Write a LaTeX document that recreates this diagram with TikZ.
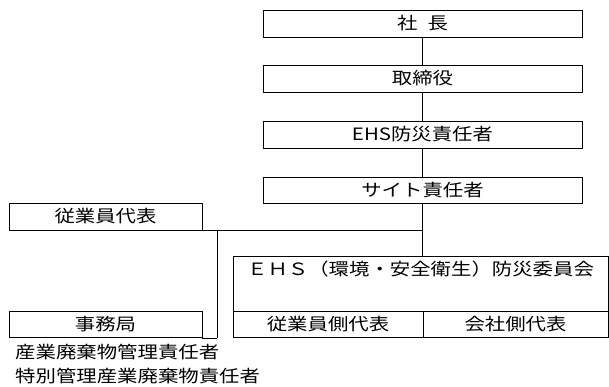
\documentclass[tikz,border=0pt]{standalone}
\usepackage{fontspec}
\newfontfamily\jpfont[FakeStretch=1.2]{Noto Sans CJK JP}

\begin{document}
\begin{tikzpicture}[x=1pt, y=-1pt,
		orgtext/.style={font=\fontsize{17}{20}\selectfont\jpfont},
		orgbox/.style={draw, line width=0.6pt, minimum height=27, inner sep=0pt, orgtext},
		link/.style={line width=0.6pt}]
			\useasboundingbox (0,0) rectangle (609,387);

			\node[orgbox, minimum width=319] at (422.5, 23.5) (shacho) {社\hspace{0.6em}長};
			\node[orgbox, minimum width=319] at (422.5, 78.5) (torishimari) {取締役};
			\node[orgbox, minimum width=319] at (422.5, 134.5) (ehs) {EHS防災責任者};
			\node[orgbox, minimum width=319, minimum height=26] at (422.5, 190) (site) {サイト責任者};

			\node[orgbox, minimum width=193] at (105.5, 216.5) (jugyoin) {従業員代表};
			\node[orgbox, minimum width=193, minimum height=26] at (105.5, 324.5) (jimu) {事務局};

			\node[orgbox, minimum width=375, minimum height=55,
				label={[orgtext, anchor=north, yshift=-2]north:ＥＨＳ（環境・安全衛生）防災委員会}] at (420.5, 283.5) (iinkai) {};
			\node[orgbox, minimum width=190, minimum height=26] at (328, 324) (jugyoinside) {従業員側代表};
			\node[orgbox, minimum width=185, minimum height=26] at (515.5, 324) (kaishaside) {会社側代表};

			\node[orgtext, anchor=west, inner sep=0pt] at (15, 352) (sanpai) {産業廃棄物管理責任者};
			\node[orgtext, anchor=west, inner sep=0pt] at (15, 376) (tokusan) {特別管理産業廃棄物責任者};

			\coordinate (knee) at (217, 229.5);

			\path
			(shacho) edge[link] (torishimari)
			(torishimari) edge[link] (ehs)
			(ehs) edge[link] (site)
			(site.south) edge[link] (site.south |- iinkai.north)
			(jugyoin.south east) edge[link] (jugyoin.south east -| site.south)
			(knee) edge[link] (knee |- jimu.south)
			(knee |- jimu.south) edge[link] (jimu.south east);
		\end{tikzpicture}
\end{document}
